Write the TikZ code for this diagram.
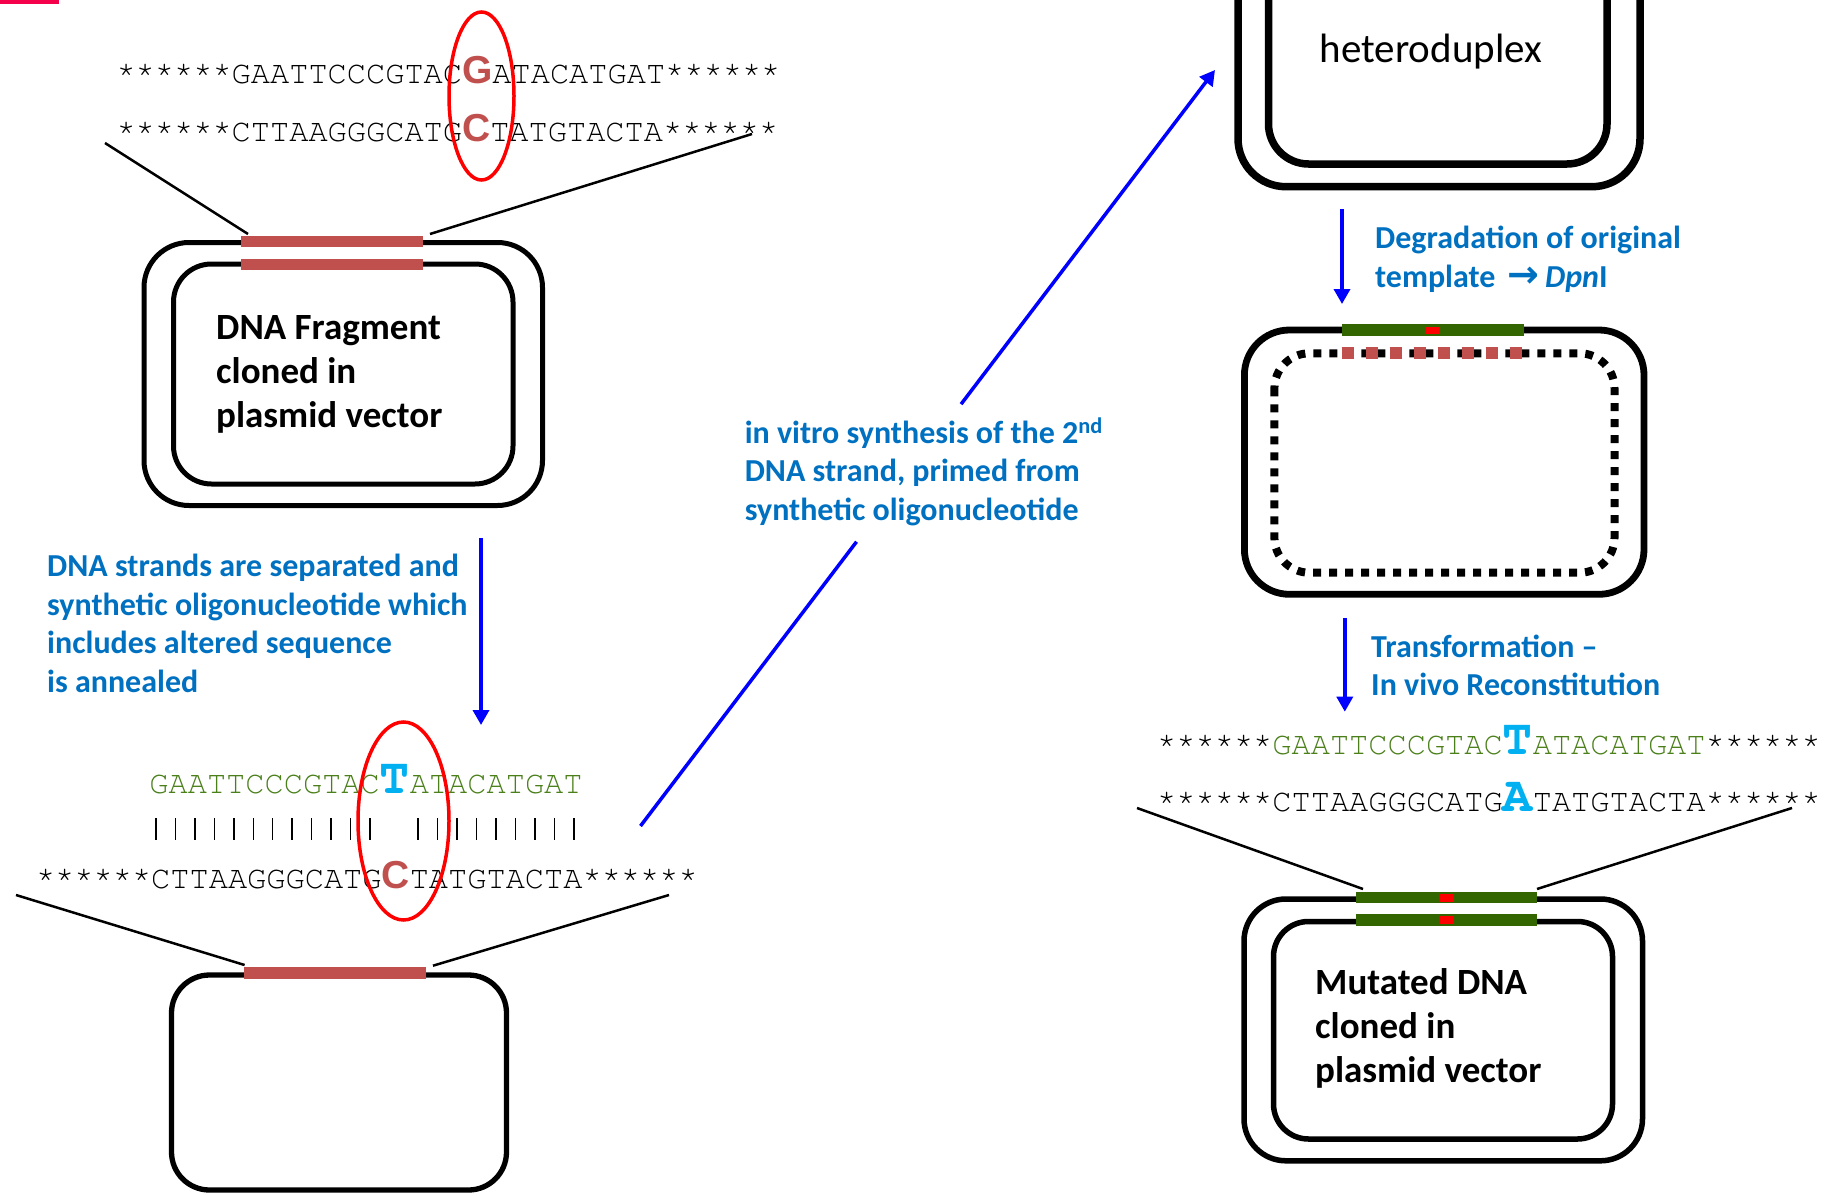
\documentclass[tikz,border=0pt]{standalone}
\usepackage{fontspec}
\setmainfont{Carlito}
\newfontfamily\seqfont{TeX Gyre Cursor}
\newfontfamily\pointfont{Liberation Sans}
\newfontfamily\arrowfont{DejaVu Sans}
\usetikzlibrary{calc,arrows.meta}

\definecolor{labelblue}{HTML}{0070C0}
\definecolor{flowblue}{HTML}{0000FF}
\definecolor{brick}{HTML}{C0504D}
\definecolor{oligo}{HTML}{4A7F1A}
\definecolor{mutcyan}{HTML}{00B0F0}
\definecolor{insertgreen}{HTML}{336600}
\definecolor{marker}{HTML}{F5004A}

\newcommand\seqsize{\seqfont\fontsize{32}{38}\selectfont}
\newcommand\wildbase[1]{{\pointfont\bfseries\fontsize{39}{39}\selectfont\color{brick}#1}}
\newcommand\mutbase[1]{{\seqfont\bfseries\fontsize{50}{50}\selectfont\color{mutcyan}#1}}
\newcommand\olig[1]{{\color{oligo}#1}}

% multi-line nodes are placed by the baseline of their last line
\tikzset{
  seqtext/.style={anchor=base west, inner sep=0pt, font=\seqsize},
  steptext/.style={anchor=base west, inner sep=0pt, align=left, text=labelblue,
                   font=\bfseries\fontsize{32}{38.5}\selectfont},
  boxtext/.style={anchor=base west, inner sep=0pt, align=left,
                  font=\bfseries\fontsize{37}{44}\selectfont},
  flow/.style={draw=flowblue, line width=3.5pt, -{Triangle[length=15pt,width=16pt]}},
  flowline/.style={draw=flowblue, line width=3.5pt},
  zoomline/.style={draw=black, line width=2.5pt},
  ring/.style={draw=red, line width=3.5pt},
  backbone/.style={draw=black, line width=#1},
  pairbar/.style={draw=black, line width=1.4pt},
}

\begin{document}
\begin{tikzpicture}[x=1pt,y=-1pt]
\useasboundingbox (0,0) rectangle (1825,1196);
\clip (0,0) rectangle (1825,1196);
\fill[marker] (0,0) rectangle (59,4);

% ---- original duplex and its plasmid
\node[seqtext] (wt1) at (116.3,83.3) {******GAATTCCCGTAC\wildbase{G}ATACATGAT******};
\node[seqtext] (wt2) at (116.3,141.7) {******CTTAAGGGCATG\wildbase{C}TATGTACTA******};
\draw[ring] (481.5,96) ellipse [x radius=32.5pt, y radius=84pt];

\draw[backbone=5pt, rounded corners=45pt] (144,242.5) rectangle (542.5,505.5);
\draw[backbone=5pt, rounded corners=38pt] (173.5,264) rectangle (513,484);
\fill[brick] (241,236) rectangle (422.7,247.3);
\fill[brick] (241,259) rectangle (422.7,270.3);
\node[boxtext] (frag) at (216,427) {DNA Fragment\\cloned in\\plasmid vector};

\coordinate (z1a) at (105,143);  \coordinate (z1b) at (248,234);
\coordinate (z1c) at (752,134);  \coordinate (z1d) at (430,234);
\draw[zoomline] (z1a) -- (z1b);
\draw[zoomline] (z1c) -- (z1d);

% ---- strand separation and annealing
\coordinate (a1s) at (481,538); \coordinate (a1e) at (481,725);
\draw[flow] (a1s) -- (a1e);
\node[steptext] (anneal) at (47,692) {DNA strands are separated and\\synthetic oligonucleotide which\\includes altered sequence\\is annealed};

\node[seqtext] (primer) at (149.2,793) {\olig{GAATTCCCGTAC}\mutbase{T}\olig{ATACATGAT}};
\foreach \i in {0,...,11} \draw[pairbar] (156+19.45*\i,818) -- ++(0,22);
\foreach \i in {0,...,8} \draw[pairbar] (417.8+19.5*\i,818) -- ++(0,22);
\node[seqtext] (tmpl) at (35.8,888) {******CTTAAGGGCATG\wildbase{C}TATGTACTA******};
\draw[ring] (403.5,821) ellipse [x radius=45.5pt, y radius=99pt];

\draw[backbone=5.3pt, rounded corners=38pt] (171.5,975) rectangle (506.5,1190);
\fill[brick] (244,966.7) rectangle (426,979);
\coordinate (z2a) at (16,895);   \coordinate (z2b) at (244.6,965);
\coordinate (z2c) at (669,895);  \coordinate (z2d) at (433,965.7);
\draw[zoomline] (z2a) -- (z2b);
\draw[zoomline] (z2c) -- (z2d);

% ---- second strand synthesis (arrow interrupted by its label)
\coordinate (synA) at (640.5,826); \coordinate (synB) at (1215,70);
\draw[flowline] (synA) -- ($(synA)!0.376!(synB)$);
\draw[flow] ($(synA)!0.558!(synB)$) -- (synB);
\node[steptext] (synth) at (744.6,520) {in vitro synthesis of the 2\textsuperscript{nd}\\DNA strand, primed from\\synthetic oligonucleotide};

% ---- heteroduplex
\draw[backbone=7.5pt, rounded corners=48pt] (1238,-100) rectangle (1640,186.7);
\draw[backbone=7.5pt, rounded corners=40pt] (1268.5,-100) rectangle (1607,164);
\node[anchor=base west, inner sep=0pt, font=\fontsize{41}{48}\selectfont] (hetero) at (1319.6,62.3) {heteroduplex};

\coordinate (a3s) at (1342,209); \coordinate (a3e) at (1342,304);
\draw[flow] (a3s) -- (a3e);
\node[steptext] (dpn) at (1375,287) {Degradation of original\\template\, {\arrowfont\bfseries\fontsize{38}{38}\selectfont →}\,\textit{Dpn}I};

% ---- nicked mutant strand after template removal
\draw[backbone=6.8pt, rounded corners=45pt] (1244.4,330) rectangle (1644,594.3);
\draw[line width=8pt, dash pattern=on 8pt off 8pt, rounded corners=35pt] (1274.4,353.3) rectangle (1614.5,572.7);
\draw[brick, line width=12pt, dash pattern=on 12pt off 12pt] (1341.5,353.3) -- (1521.5,353.3);
\fill[insertgreen] (1342,324) rectangle (1523.6,335.7);
\fill[red] (1425,326.7) rectangle (1440,334);

\coordinate (a4s) at (1344.8,618); \coordinate (a4e) at (1344.8,711.7);
\draw[flow] (a4s) -- (a4e);
\node[steptext] (transf) at (1371,695.7) {Transformation –\\In vivo Reconstitution};

% ---- mutated duplex and its plasmid
\node[seqtext] (mut1) at (1157,754) {******\olig{GAATTCCCGTAC}\mutbase{T}\olig{ATACATGAT}******};
\node[seqtext] (mut2) at (1157,811.7) {******CTTAAGGGCATG\mutbase{A}TATGTACTA******};

\draw[backbone=5.5pt, rounded corners=42pt] (1244,899) rectangle (1642.5,1160.8);
\draw[backbone=5.5pt, rounded corners=35pt] (1273.5,921.5) rectangle (1612.5,1139);
\fill[insertgreen] (1355.7,891.7) rectangle (1537,903.3);
\fill[insertgreen] (1355.7,914) rectangle (1537,925.7);
\fill[red] (1439,894) rectangle (1454,901.7);
\fill[red] (1439,916) rectangle (1454,924);
\node[boxtext] (mutvec) at (1315,1082.7) {Mutated DNA\\cloned in\\plasmid vector};

\coordinate (z3a) at (1137,808);  \coordinate (z3b) at (1363,889);
\coordinate (z3c) at (1792,808);  \coordinate (z3d) at (1537,889);
\draw[zoomline] (z3a) -- (z3b);
\draw[zoomline] (z3c) -- (z3d);
\end{tikzpicture}
\end{document}
